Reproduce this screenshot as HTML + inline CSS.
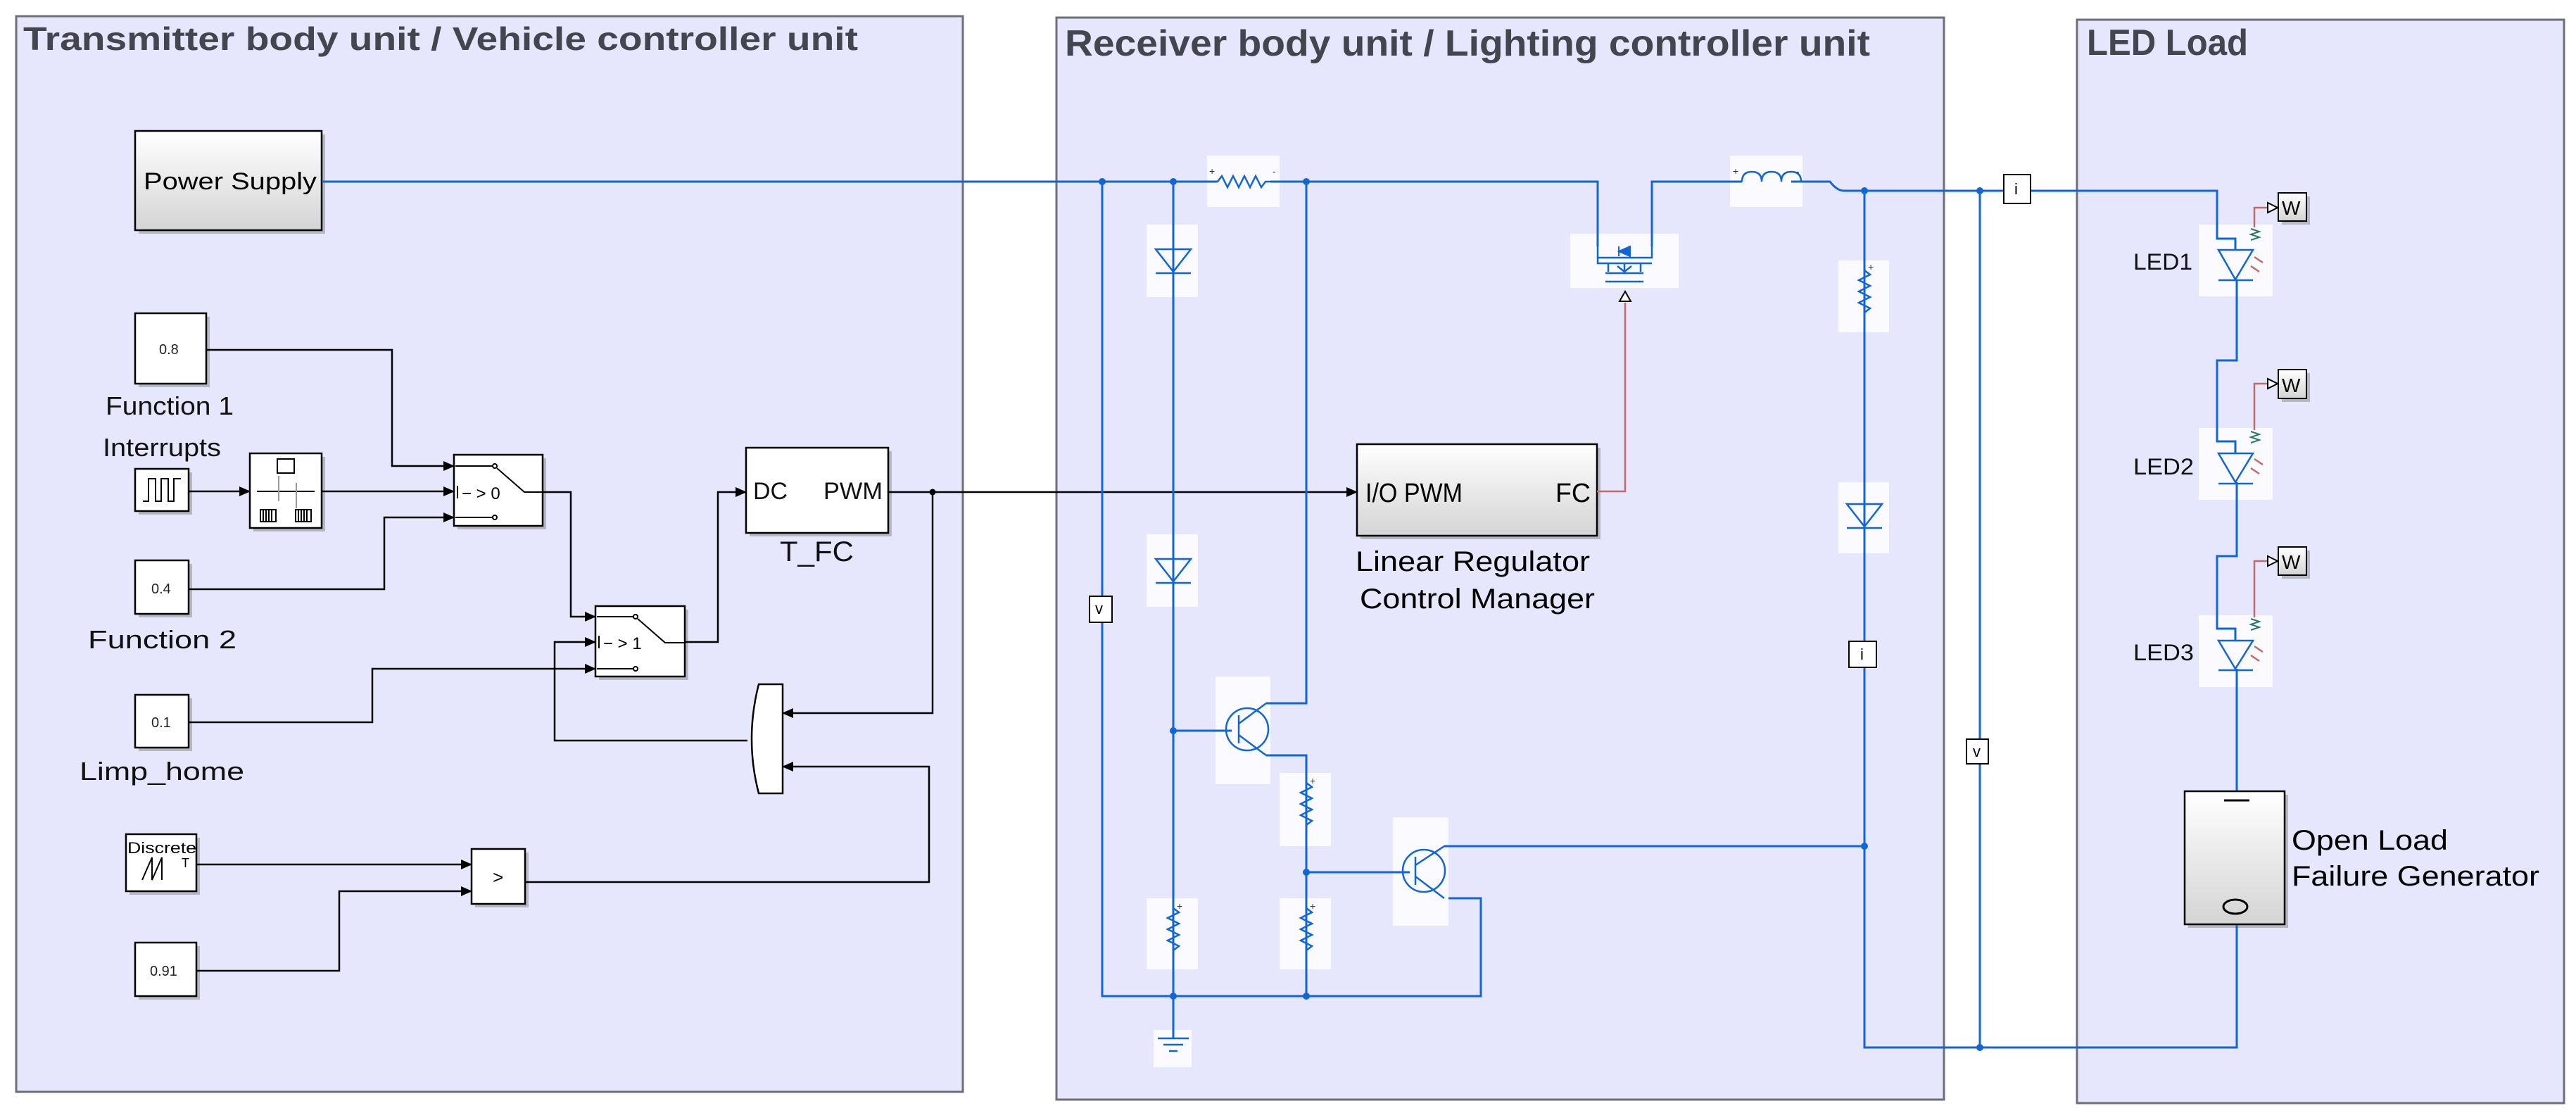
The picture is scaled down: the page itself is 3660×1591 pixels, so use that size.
<!DOCTYPE html>
<html><head><meta charset="utf-8"><style>html,body{margin:0;padding:0;background:#fff}svg{display:block}</style></head>
<body>
<svg xmlns="http://www.w3.org/2000/svg" width="3660" height="1591" viewBox="0 0 3660 1591" font-family="Liberation Sans, Arial, sans-serif">
<defs>
<linearGradient id="g" x1="0" y1="0" x2="0" y2="1"><stop offset="0" stop-color="#ffffff"/><stop offset="1" stop-color="#d4d4d4"/></linearGradient>
<marker id="a" markerUnits="userSpaceOnUse" markerWidth="16" markerHeight="16" refX="15" refY="8" orient="auto"><path d="M0,1 L16,8 L0,15 z" fill="#000"/></marker>
</defs>
<rect x="23" y="23" width="1345" height="1528" fill="#e6e6fc" stroke="#6e6e7a" stroke-width="3"/>
<rect x="1501" y="25" width="1261" height="1537" fill="#e6e6fc" stroke="#6e6e7a" stroke-width="3"/>
<rect x="2951" y="28" width="692" height="1539" fill="#e6e6fc" stroke="#6e6e7a" stroke-width="3"/>
<text x="33" y="71" font-size="46" font-weight="bold" fill="#45454f" textLength="1186" lengthAdjust="spacingAndGlyphs">Transmitter body unit / Vehicle controller unit</text>
<text x="1513" y="79" font-size="52" font-weight="bold" fill="#45454f" textLength="1144" lengthAdjust="spacingAndGlyphs">Receiver body unit / Lighting controller unit</text>
<text x="2965" y="78" font-size="52" font-weight="bold" fill="#45454f" textLength="229" lengthAdjust="spacingAndGlyphs">LED Load</text>

<g fill="#888" opacity="0.5">
<rect x="197" y="191" width="265" height="141"/><rect x="197" y="450" width="101" height="100"/><rect x="197" y="671" width="76" height="60"/>
<rect x="360" y="649" width="102" height="106"/><rect x="650" y="651" width="126" height="101"/><rect x="851" y="866" width="127" height="100"/>
<rect x="1065" y="641" width="202" height="121"/><rect x="197" y="801" width="76" height="76"/><rect x="197" y="992" width="76" height="75"/>
<rect x="184" y="1190" width="100" height="81"/><rect x="675" y="1211" width="76" height="78"/><rect x="197" y="1344" width="87" height="76"/>
<rect x="1933" y="636" width="341" height="130"/><rect x="3109" y="1129" width="142" height="189"/>
</g>
<rect x="192" y="186" width="265" height="141" fill="url(#g)" stroke="#000" stroke-width="2.5"/>
<text x="204" y="269" font-size="34" textLength="246" lengthAdjust="spacingAndGlyphs">Power Supply</text>

<g stroke="#000" stroke-width="2.5" fill="#fff">
<rect x="192" y="445" width="101" height="100"/>
<rect x="192" y="666" width="76" height="60"/>
<rect x="355" y="644" width="102" height="106"/>
<rect x="645" y="646" width="126" height="101"/>
<rect x="846" y="861" width="127" height="100"/>
<rect x="1060" y="636" width="202" height="121"/>
<rect x="192" y="796" width="76" height="76"/>
<rect x="192" y="987" width="76" height="75"/>
<rect x="179" y="1185" width="100" height="81"/>
<rect x="670" y="1206" width="76" height="78"/>
<rect x="192" y="1339" width="87" height="76"/>
<path d="M1112,972 L1112,1127 L1078,1127 Q1058,1050 1078,972 Z"/>
</g>
<g font-size="20" fill="#222">
<text x="226" y="503">0.8</text><text x="215" y="843">0.4</text><text x="215" y="1033">0.1</text><text x="213" y="1386">0.91</text>
</g>
<g font-size="36" fill="#111">
<text x="150" y="589" textLength="182" lengthAdjust="spacingAndGlyphs">Function 1</text>
<text x="146" y="648" textLength="168" lengthAdjust="spacingAndGlyphs">Interrupts</text>
<text x="125" y="921" textLength="211" lengthAdjust="spacingAndGlyphs">Function 2</text>
<text x="113" y="1108" textLength="234" lengthAdjust="spacingAndGlyphs">Limp_home</text>
<text x="1108" y="797" font-size="40" textLength="105" lengthAdjust="spacingAndGlyphs">T_FC</text>
<text x="1070" y="709" font-size="34">DC</text><text x="1170" y="709" font-size="34" textLength="84" lengthAdjust="spacingAndGlyphs">PWM</text>
</g>
<path d="M203,712 h8 v-32 h10 v32 h8 v-32 h10 v32 h8 v-32 h10" fill="none" stroke="#000" stroke-width="2"/>
<g stroke="#000" stroke-width="2" fill="none">
<rect x="394" y="652" width="24" height="20"/><line x1="365" y1="698" x2="447" y2="698"/>
<line x1="396" y1="676" x2="396" y2="712" stroke="#999"/><line x1="421" y1="686" x2="421" y2="722" stroke="#999"/>
<rect x="370" y="724" width="22" height="17"/><rect x="420" y="724" width="22" height="17"/>
<path d="M374,724v17M378,724v17M382,724v17M386,724v17M424,724v17M428,724v17M432,724v17M436,724v17"/>
</g>
<g stroke="#000" stroke-width="2" fill="none">
<path d="M647,662 H700"/><circle cx="703" cy="662" r="3"/><path d="M647,735 H700"/><circle cx="703" cy="735" r="3"/>
<path d="M706,665 L745,699 H771"/><path d="M650,690 v18"/>
<path d="M848,876 H900"/><circle cx="903" cy="876" r="3"/><path d="M848,950 H900"/><circle cx="903" cy="950" r="3"/>
<path d="M906,879 L945,913 H973"/><path d="M851,903 v18"/>
</g>
<text x="656" y="709" font-size="24">&#8722;&#160;&gt; 0</text>
<text x="857" y="922" font-size="24">&#8722;&#160;&gt; 1</text>
<text x="700" y="1255" font-size="26">&gt;</text>
<text x="181" y="1212" font-size="22" textLength="98" lengthAdjust="spacingAndGlyphs">Discrete</text>
<path d="M202,1250 L216,1218 L216,1250 L230,1218 L230,1250" fill="none" stroke="#000" stroke-width="2"/>
<text x="258" y="1232" font-size="18">T</text>
<g stroke="#000" stroke-width="2.5" fill="none" marker-end="url(#a)">
<path d="M268,698 H355"/>
<path d="M457,698 H645"/>
<path d="M293,497 H557 V662 H645"/>
<path d="M268,837 H546 V735 H645"/>
<path d="M771,699 H811 V876 H846"/>
<path d="M268,1026 H529 V950 H846"/>
<path d="M1062,1052 H788 V912 H846"/>
<path d="M973,912 H1020 V699 H1060"/>
<path d="M1325,699 V1013 H1112"/>
<path d="M746,1253 H1320 V1089 H1112"/>
<path d="M279,1228 H670"/>
<path d="M279,1379 H482 V1266 H670"/>
<path d="M1262,699 H1928"/>
</g>
<circle cx="1325" cy="699" r="4.5"/>

<rect x="1928" y="631" width="341" height="130" fill="url(#g)" stroke="#000" stroke-width="2.5"/>
<text x="1940" y="713" font-size="38" textLength="138" lengthAdjust="spacingAndGlyphs">I/O PWM</text>
<text x="2210" y="713" font-size="38" textLength="50" lengthAdjust="spacingAndGlyphs">FC</text>
<text x="1926" y="811" font-size="40" textLength="333" lengthAdjust="spacingAndGlyphs">Linear Regulator</text>
<text x="1932" y="864" font-size="40" textLength="334" lengthAdjust="spacingAndGlyphs">Control Manager</text>
<path d="M2269,698 H2309 V430" fill="none" stroke="#c06a6a" stroke-width="2.5"/>
<path d="M2301,428 L2309,414 L2317,428 Z" fill="#fff" stroke="#000" stroke-width="2"/>

<g fill="#fbfbff">
<rect x="1715" y="221" width="103" height="73"/><rect x="1629" y="319" width="73" height="103"/><rect x="1629" y="759" width="73" height="103"/>
<rect x="1629" y="1276" width="73" height="101"/><rect x="1639" y="1463" width="54" height="53"/><rect x="1727" y="961" width="78" height="153"/>
<rect x="1818" y="1098" width="73" height="104"/><rect x="1818" y="1276" width="73" height="101"/><rect x="1979" y="1161" width="79" height="154"/>
<rect x="2231" y="332" width="154" height="77"/><rect x="2458" y="221" width="103" height="73"/><rect x="2612" y="370" width="72" height="102"/>
<rect x="2612" y="685" width="72" height="101"/>
<rect x="3124" y="319" width="105" height="102"/><rect x="3124" y="608" width="105" height="102"/><rect x="3124" y="874" width="105" height="102"/>
</g>
<g stroke="#1166d6" stroke-width="3" fill="none">
<path d="M457,258 H1730"/><path d="M1805,258 H2270 V350"/><path d="M2347,350 V258 H2475"/><path d="M2545,258 H2600 Q2610,271 2620,271 H3150 V339 H3176 V354"/>
<path d="M1566,258 V1415 H2104 V1276 H2058"/>
<path d="M1667,258 V1415"/><path d="M1667,1415 V1475"/>
<path d="M1856,258 V999 H1799"/>
<path d="M1799,1073 H1856 V1415"/>
<path d="M1667,1038 H1750"/><path d="M1856,1239 H2003"/>
<path d="M2052,1202 H2649"/>
<path d="M2649,271 V1488 H3178 V1313"/>
<path d="M2813,271 V1488"/>
<path d="M3178,397 V512 H3150 V627 H3176 V644"/><path d="M3178,685 V790 H3150 V893 H3176 V910"/><path d="M3178,950 V1124"/>
</g>
<g fill="#1166d6">
<circle cx="1566" cy="258" r="5"/><circle cx="1667" cy="258" r="5"/><circle cx="1856" cy="258" r="5"/><circle cx="2649" cy="271" r="5"/><circle cx="2813" cy="271" r="5"/>
<circle cx="1667" cy="1038" r="5"/><circle cx="1856" cy="1239" r="5"/><circle cx="2649" cy="1202" r="5"/>
<circle cx="1667" cy="1415" r="5"/><circle cx="1856" cy="1415" r="5"/><circle cx="2813" cy="1488" r="5"/>
</g>
<g stroke="#1166d6" stroke-width="2.5" fill="none">
<path d="M1730,258 l6,-8 l8,16 l8,-16 l8,16 l8,-16 l8,16 l8,-16 l8,16 l6,-8 H1805"/>
<path d="M2475,258 q0,-14 14,-14 q14,0 14,14 q0,-14 14,-14 q14,0 14,14 q0,-14 14,-14 q14,0 14,14"/>
<path d="M1667,1290 l8,6 l-16,8 l16,8 l-16,8 l16,8 l-16,8 l16,8 l-8,6 V1365"/>
<path d="M1856,1112 l8,6 l-16,8 l16,8 l-16,8 l16,8 l-16,8 l16,8 l-8,6"/>
<path d="M1856,1290 l8,6 l-16,8 l16,8 l-16,8 l16,8 l-16,8 l16,8 l-8,6"/>
<path d="M2649,384 l8,6 l-16,8 l16,8 l-16,8 l16,8 l-16,8 l16,8 l-8,6"/>
<path d="M1642,354 H1692 L1667,386 Z M1642,388 H1692"/>
<path d="M1642,794 H1692 L1667,826 Z M1642,828 H1692"/>
<path d="M2624,716 H2674 L2649,748 Z M2624,750 H2674"/>
<circle cx="1772" cy="1036" r="30"/><path d="M1760,1016 V1056 M1760,1028 L1799,999 M1760,1044 L1799,1073"/>
<circle cx="2023" cy="1237" r="30"/><path d="M2011,1217 V1257 M2011,1229 L2052,1202 M2011,1245 L2052,1276"/>
<path d="M1645,1475 H1689 M1653,1484 H1681 M1661,1493 H1673"/>
<path d="M2270,350 V366 H2347 V350 M2270,366 V374 H2347 M2285,374 V386 M2331,374 V386 M2281,388 H2335 M2281,400 H2335"/>
<path d="M2308,374 V386 M2298,378 L2308,386 L2318,378"/>
</g>
<path d="M2300,357 L2316,350 L2316,364 Z M2300,350 V364" fill="#1166d6" stroke="#1166d6" stroke-width="2"/>
<g font-size="14" fill="#333"><text x="1718" y="248">+</text><text x="1808" y="248">-</text><text x="2462" y="248">+</text><text x="2552" y="248">-</text>
<text x="1672" y="1292">+</text><text x="1861" y="1114">+</text><text x="1861" y="1292">+</text><text x="2654" y="384">+</text></g>
<g stroke="#000" stroke-width="2" fill="#fff">
<rect x="1548" y="847" width="32" height="37"/><rect x="2627" y="911" width="39" height="37"/><rect x="2847" y="248" width="38" height="41"/><rect x="2794" y="1050" width="31" height="35"/>
</g>
<g font-size="22"><text x="1556" y="872">v</text><text x="2643" y="937">i</text><text x="2862" y="276">i</text><text x="2803" y="1075">v</text></g>

<g stroke="#1166d6" stroke-width="2.5" fill="none">
<path d="M3152,355 H3201 L3176,397 Z M3152,398 H3201"/>
<path d="M3152,644 H3201 L3176,685 Z M3152,687 H3201"/>
<path d="M3152,910 H3201 L3176,950 Z M3152,952 H3201"/>
</g>
<g stroke="#c06a6a" stroke-width="2.5" fill="none">
<path d="M3203,323 V295 H3222"/><path d="M3203,611 V545 H3222"/><path d="M3203,877 V797 H3222"/>
<path d="M3203,365 l12,8 M3198,378 l12,8 M3203,652 l12,8 M3198,665 l12,8 M3203,918 l12,8 M3198,931 l12,8"/>
</g>
<g stroke="#2a7a6a" stroke-width="2" fill="none">
<path d="M3198,325 l12,4 l-12,4 l12,4 l-12,4 M3198,613 l12,4 l-12,4 l12,4 l-12,4 M3198,879 l12,4 l-12,4 l12,4 l-12,4"/>
</g>
<g fill="#fff" stroke="#000" stroke-width="2">
<path d="M3222,288 L3236,295 L3222,302 Z"/><path d="M3222,538 L3236,545 L3222,552 Z"/><path d="M3222,790 L3236,797 L3222,804 Z"/>
</g>
<g fill="#888" opacity="0.5"><rect x="3242" y="279" width="40" height="40"/><rect x="3242" y="530" width="40" height="41"/><rect x="3242" y="782" width="40" height="40"/></g>
<g fill="url(#g)" stroke="#000" stroke-width="2">
<rect x="3237" y="274" width="40" height="40"/><rect x="3237" y="525" width="40" height="41"/><rect x="3237" y="777" width="40" height="40"/>
</g>
<g font-size="28"><text x="3242" y="305">W</text><text x="3242" y="557">W</text><text x="3242" y="808">W</text></g>
<g font-size="32" fill="#111">
<text x="3031" y="383" textLength="84" lengthAdjust="spacingAndGlyphs">LED1</text>
<text x="3031" y="674" textLength="86" lengthAdjust="spacingAndGlyphs">LED2</text>
<text x="3031" y="938" textLength="86" lengthAdjust="spacingAndGlyphs">LED3</text>
</g>
<rect x="3104" y="1124" width="142" height="189" fill="url(#g)" stroke="#000" stroke-width="2.5"/>
<path d="M3160,1137 H3196" stroke="#000" stroke-width="3"/>
<ellipse cx="3176" cy="1288" rx="17" ry="10" fill="none" stroke="#000" stroke-width="3"/>
<text x="3256" y="1207" font-size="40" textLength="222" lengthAdjust="spacingAndGlyphs">Open Load</text>
<text x="3256" y="1258" font-size="40" textLength="352" lengthAdjust="spacingAndGlyphs">Failure Generator</text>
</svg>
</body></html>
